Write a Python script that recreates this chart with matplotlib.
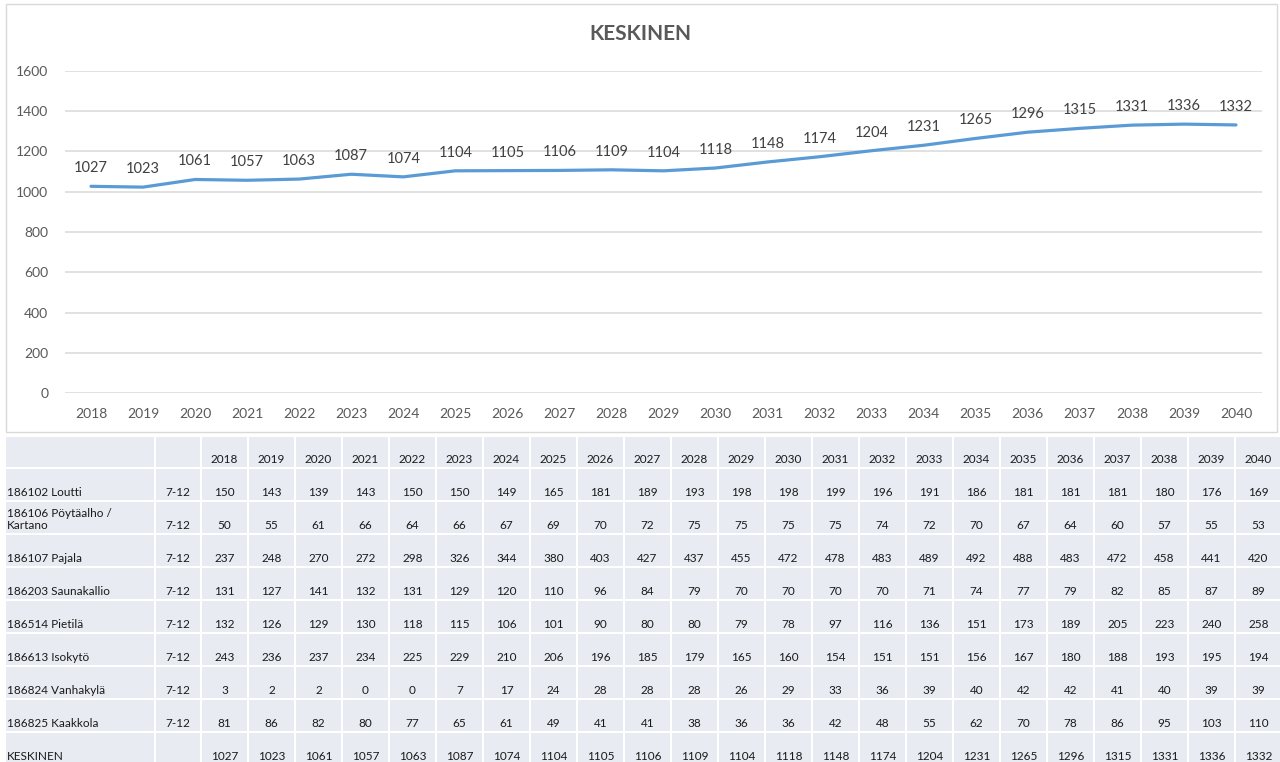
import matplotlib.pyplot as plt
from matplotlib.patches import Rectangle

plt.rcParams['font.family'] = ['Lato', 'DejaVu Sans']

years = list(range(2018, 2041))
total = [1027, 1023, 1061, 1057, 1063, 1087, 1074, 1104, 1105, 1106, 1109, 1104,
         1118, 1148, 1174, 1204, 1231, 1265, 1296, 1315, 1331, 1336, 1332]

areas = ['186102 Loutti', '186106 Pöytäalho /\nKartano', '186107 Pajala',
         '186203 Saunakallio', '186514 Pietilä', '186613 Isokytö',
         '186824 Vanhakylä', '186825 Kaakkola']
grade = '7-12'
loutti = [150, 143, 139, 143, 150, 150, 149, 165, 181, 189, 193, 198, 198, 199, 196, 191, 186, 181, 181, 181, 180, 176, 169]
poytaalho = [50, 55, 61, 66, 64, 66, 67, 69, 70, 72, 75, 75, 75, 75, 74, 72, 70, 67, 64, 60, 57, 55, 53]
pajala = [237, 248, 270, 272, 298, 326, 344, 380, 403, 427, 437, 455, 472, 478, 483, 489, 492, 488, 483, 472, 458, 441, 420]
saunakallio = [131, 127, 141, 132, 131, 129, 120, 110, 96, 84, 79, 70, 70, 70, 70, 71, 74, 77, 79, 82, 85, 87, 89]
pietila = [132, 126, 129, 130, 118, 115, 106, 101, 90, 80, 80, 79, 78, 97, 116, 136, 151, 173, 189, 205, 223, 240, 258]
isokyto = [243, 236, 237, 234, 225, 229, 210, 206, 196, 185, 179, 165, 160, 154, 151, 151, 156, 167, 180, 188, 193, 195, 194]
vanhakyla = [3, 2, 2, 0, 0, 7, 17, 24, 28, 28, 28, 26, 29, 33, 36, 39, 40, 42, 42, 41, 40, 39, 39]
kaakkola = [81, 86, 82, 80, 77, 65, 61, 49, 41, 41, 38, 36, 36, 42, 48, 55, 62, 70, 78, 86, 95, 103, 110]
rows = [loutti, poytaalho, pajala, saunakallio, pietila, isokyto, vanhakyla, kaakkola]

W, H = 1280, 762
fig = plt.figure(figsize=(W / 100, H / 100), dpi=100)

# chart frame
fig.patches.append(Rectangle((6 / W, 1 - 432 / H), 1271 / W, 428 / H, transform=fig.transFigure,
                             fill=False, edgecolor='#d9d9d9', lw=1))

ax = fig.add_axes([65 / W, 1 - 393 / H, (1262 - 65) / W, (393 - 71) / H])
x = list(range(len(years)))
ax.plot(x, total, color='#5B9BD5', lw=2.3, solid_capstyle='round', zorder=3)
for xi, v in zip(x, total):
    ax.annotate(str(v), (xi, v), xytext=(0, 8), textcoords='offset points',
                ha='center', va='bottom', fontsize=10.5, color='#404040')
ax.set_xlim(-0.5, len(years) - 0.5)
ax.set_ylim(0, 1600)
ax.set_yticks(range(0, 1601, 200))
ax.set_xticks(x)
ax.set_xticklabels([str(y) for y in years])
ax.grid(axis='y', color='#d9d9d9', lw=1.1)
ax.set_axisbelow(True)
for s in ax.spines.values():
    s.set_visible(False)
ax.tick_params(length=0, labelsize=10, labelcolor='#595959')
ax.tick_params(axis='y', pad=12)
ax.tick_params(axis='x', pad=11)
fig.text(0.5, 1 - 34 / H, 'KESKINEN', ha='center', va='center', fontsize=15,
         fontweight='bold', color='#595959')

# data table below the chart
tb = fig.add_axes([0, 0, 1, 1])
tb.set_xlim(0, W)
tb.set_ylim(H, 0)
tb.axis('off')
tb.patch.set_alpha(0)

col_edges = [5, 155, 201] + [201 + 47 * (i + 1) for i in range(len(years))]
row_edges = [436, 468] + [468 + 33 * (k + 1) for k in range(len(rows) + 1)]
cell_bg = '#e9ebf3'
fs = 8.5

header = ['', ''] + [str(y) for y in years]
body = [[a, grade] + [str(v) for v in r] for a, r in zip(areas, rows)]
body.append(['KESKINEN', ''] + [str(v) for v in total])
table_rows = [header] + body

for r, cells in enumerate(table_rows):
    y0, y1 = row_edges[r], row_edges[r + 1]
    for c, txt in enumerate(cells):
        x0, x1 = col_edges[c], col_edges[c + 1]
        tb.add_patch(Rectangle((x0 + 1, y0 + 1), x1 - x0 - 2, y1 - y0 - 2,
                               facecolor=cell_bg, edgecolor='none'))
        if not txt:
            continue
        if c == 0:
            tb.text(x0 + 2, y1 - 3, txt, ha='left', va='bottom', fontsize=fs,
                    color='#1a1a1a', linespacing=1.15)
        else:
            tb.text((x0 + x1) / 2, y1 - 3, txt, ha='center', va='bottom',
                    fontsize=fs, color='#1a1a1a')

fig.savefig('out.png', dpi=100)
